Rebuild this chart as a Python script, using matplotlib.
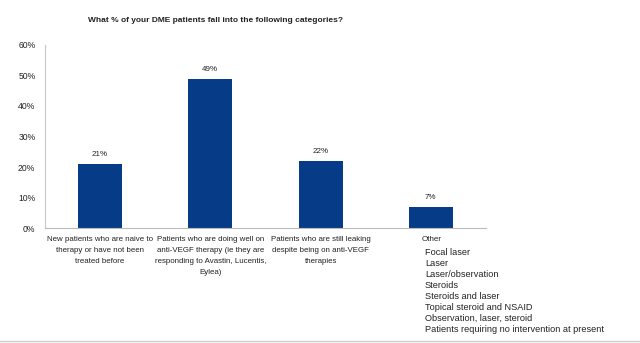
import matplotlib
matplotlib.use('Agg')
import matplotlib.pyplot as plt

plt.rcParams['font.family'] = ['Liberation Sans', 'DejaVu Sans']

# 数据
categories = [
    "New patients who are naive to\ntherapy or have not been\ntreated before",
    "Patients who are doing well on\nanti-VEGF therapy (ie they are\nresponding to Avastin, Lucentis,\nEylea)",
    "Patients who are still leaking\ndespite being on anti-VEGF\ntherapies",
    "",
]
values = [21, 49, 22, 7]
other_items = [
    "Focal laser",
    "Laser",
    "Laser/observation",
    "Steroids",
    "Steroids and laser",
    "Topical steroid and NSAID",
    "Observation, laser, steroid",
    "Patients requiring no intervention at present",
]
yticks = [0, 10, 20, 30, 40, 50, 60]

bar_color = '#063c87'
text_color = '#222222'

fig = plt.figure(figsize=(6.4, 3.43), dpi=100)
ax = fig.add_axes([0.0703, 0.335, 0.689, 0.534])

x = list(range(len(values)))
bars = ax.bar(x, values, width=0.4, color=bar_color)
for xi, v in zip(x, values):
    ax.text(xi, v + 1.8, f"{v}%", ha='center', va='bottom', fontsize=5.8, color=text_color)

ax.set_xlim(-0.5, len(values) - 0.5)
ax.set_ylim(0, 60)
ax.set_yticks(yticks)
ax.set_yticklabels([f"{t}%" for t in yticks], fontsize=6.2, color=text_color)
ax.set_xticks(x)
ax.set_xticklabels(categories, fontsize=5.7, color=text_color, linespacing=1.75, va='top')
ax.tick_params(axis='y', length=0, pad=7)
ax.tick_params(axis='x', length=0, pad=6)

for s in ['top', 'right']:
    ax.spines[s].set_visible(False)
ax.spines['left'].set_color('#c8c8c8')
ax.spines['bottom'].set_color('#bbbbbb')

# Other 说明
fig.text(422 / 640, 1 - 241 / 343, "Other", fontsize=5.8, color=text_color, va='baseline', ha='left')
for i, item in enumerate(other_items):
    fig.text(425 / 640, 1 - (255 + i * 11) / 343, item, fontsize=6.6,
             color=text_color, va='baseline', ha='left')

fig.suptitle("What % of your DME patients fall into the following categories?",
             x=216 / 640, y=1 - 20 / 343, fontsize=6.0, fontweight='bold', color=text_color,
             va='center')

# 底部灰线
fig.add_artist(plt.Line2D([0, 1], [1 - 341 / 343] * 2, color='#cccccc', lw=1, transform=fig.transFigure))

fig.savefig('out.png', dpi=100)
